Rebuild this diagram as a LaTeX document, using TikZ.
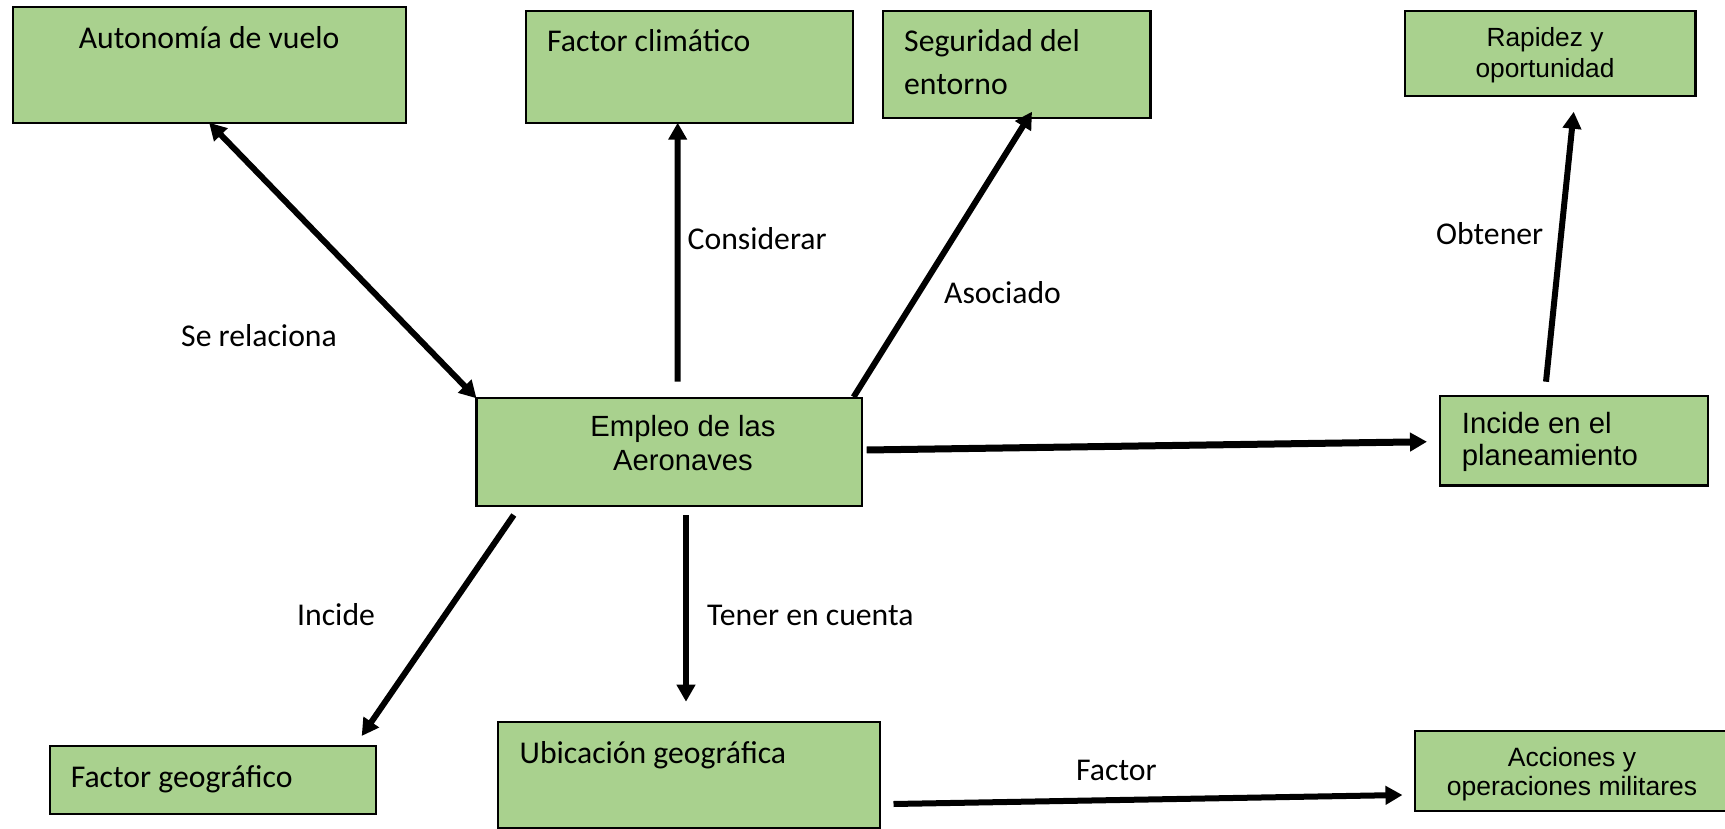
\documentclass[tikz,border=0pt]{standalone}
\usepackage{fontspec}
\setmainfont{Carlito}
\newfontfamily\arialf{Liberation Sans}
\usetikzlibrary{arrows.meta,calc}
\definecolor{boxgreen}{RGB}{169,209,142}
\newcommand\fsC{\fontsize{31.7}{42.6}\selectfont}
\newcommand\fsRap{\arialf\fontsize{26.3}{30.6}\selectfont}
\newcommand\fsEmp{\arialf\fontsize{29.2}{33.3}\selectfont}
\newcommand\fsInc{\arialf\fontsize{29.3}{32}\selectfont}
\newcommand\fsAcc{\arialf\fontsize{26.5}{29}\selectfont}
\newcommand\twol[2]{\begin{tabular}[t]{@{}#1@{}}#2\end{tabular}}
\begin{document}
\begin{tikzpicture}[x=1pt,y=-1pt,
  box/.style={draw=black, line width=2.2pt, fill=boxgreen, inner sep=0pt, outer sep=0pt, anchor=north west},
  lbl/.style={inner sep=0pt, anchor=base west, font=\fsC},
  ctr/.style={inner sep=0pt, anchor=base},
  arr/.style={line width=6pt, -{Triangle[length=17pt,width=18pt]}},
  arrb/.style={line width=6pt, {Triangle[length=17pt,width=18pt]}-{Triangle[length=17pt,width=18pt]}}]
\useasboundingbox (0,0) rectangle (1725,829);
% boxes
\node[box, minimum width=393pt, minimum height=115.4pt] (auto) at (12.6,7.3) {};
\node[box, minimum width=327pt, minimum height=111.7pt] (clim) at (525.6,11) {};
\node[box, minimum width=267.4pt, minimum height=106.7pt] (seg) at (883,11) {};
\node[box, minimum width=290.4pt, minimum height=84.7pt] (rap) at (1405,11) {};
\node[box, minimum width=385.7pt, minimum height=107.4pt] (emp) at (476.5,398.3) {};
\node[box, minimum width=268pt, minimum height=89.5pt] (inc) at (1440,396) {};
\node[box, minimum width=326pt, minimum height=68pt] (fgeo) at (50,746) {};
\node[box, minimum width=382.3pt, minimum height=106pt] (ubi) at (497.7,722.3) {};
\node[box, minimum width=320pt, minimum height=80pt] (acc) at (1415.3,731) {};
% box texts
\node[ctr, font=\fsC] (tauto) at (209.1,48.3) {Autonomía de vuelo};
\node[lbl] (tclim) at (547,51.7) {Factor climático};
\node[lbl] (tseg) at (904,51.7) {\twol{l}{Seguridad del\\entorno}};
\node[ctr, font=\fsRap] (trap) at (1545,46.7) {\twol{c}{Rapidez y\\oportunidad}};
\node[ctr, font=\fsEmp] (temp) at (683,436.7) {\twol{c}{Empleo de las\\Aeronaves}};
\node[lbl, font=\fsInc] (tinc) at (1461.7,433.3) {\twol{l}{Incide en el\\planeamiento}};
\node[lbl] (tfgeo) at (70.6,787.3) {Factor geográfico};
\node[lbl] (tubi) at (519.5,763.3) {Ubicación geográfica};
\node[ctr, font=\fsAcc] (tacc) at (1572,766.7) {\twol{c}{Acciones y\\operaciones militares}};
% connector labels
\node[lbl] (l1) at (181,346.7) {Se relaciona};
\node[lbl] (l2) at (687.5,250) {Considerar};
\node[lbl] (l3) at (944,304) {Asociado};
\node[lbl] (l4) at (1436,245) {Obtener};
\node[lbl] (l5) at (297,625) {Incide};
\node[lbl] (l6) at (707,625) {Tener en cuenta};
\node[lbl] (l7) at (1076,780) {Factor};
% connector end points
\coordinate (climS) at ($(emp.north)+(8.25,-16.6)$);
\coordinate (climE) at ($(clim.south)+(-11.4,0)$);
\coordinate (segS) at ($(emp.north east)+(-8.6,-1.3)$);
\coordinate (segE) at ($(seg.south)+(15.3,-6)$);
\coordinate (incS) at ($(emp.east)+(4.5,-2)$);
\coordinate (incE) at ($(inc.west)+(-13,1)$);
\coordinate (rapS) at ($(inc.north)+(-28,-14.3)$);
\coordinate (rapE) at ($(rap.south)+(23.5,16)$);
\coordinate (fgeoS) at ($(emp.south west)+(37.3,9.3)$);
\coordinate (fgeoE) at ($(fgeo.north east)+(-14.3,-10)$);
\coordinate (ubiS) at ($(emp.south)+(16.65,9.3)$);
\coordinate (ubiE) at ($(ubi.north)+(-2.85,-20.6)$);
\coordinate (accS) at ($(ubi.east)+(13.5,28.7)$);
\coordinate (accE) at ($(acc.west)+(-12.8,24)$);
% connectors
\draw[arrb] (auto.south) -- (emp.north west);
\draw[arr] (climS) -- (climE);
\draw[arr] (segS) -- (segE);
\draw[arr, line width=7pt] (incS) -- (incE);
\draw[arr] (rapS) -- (rapE);
\draw[arr] (fgeoS) -- (fgeoE);
\draw[arr] (ubiS) -- (ubiE);
\draw[arr] (accS) -- (accE);
\end{tikzpicture}
\end{document}
